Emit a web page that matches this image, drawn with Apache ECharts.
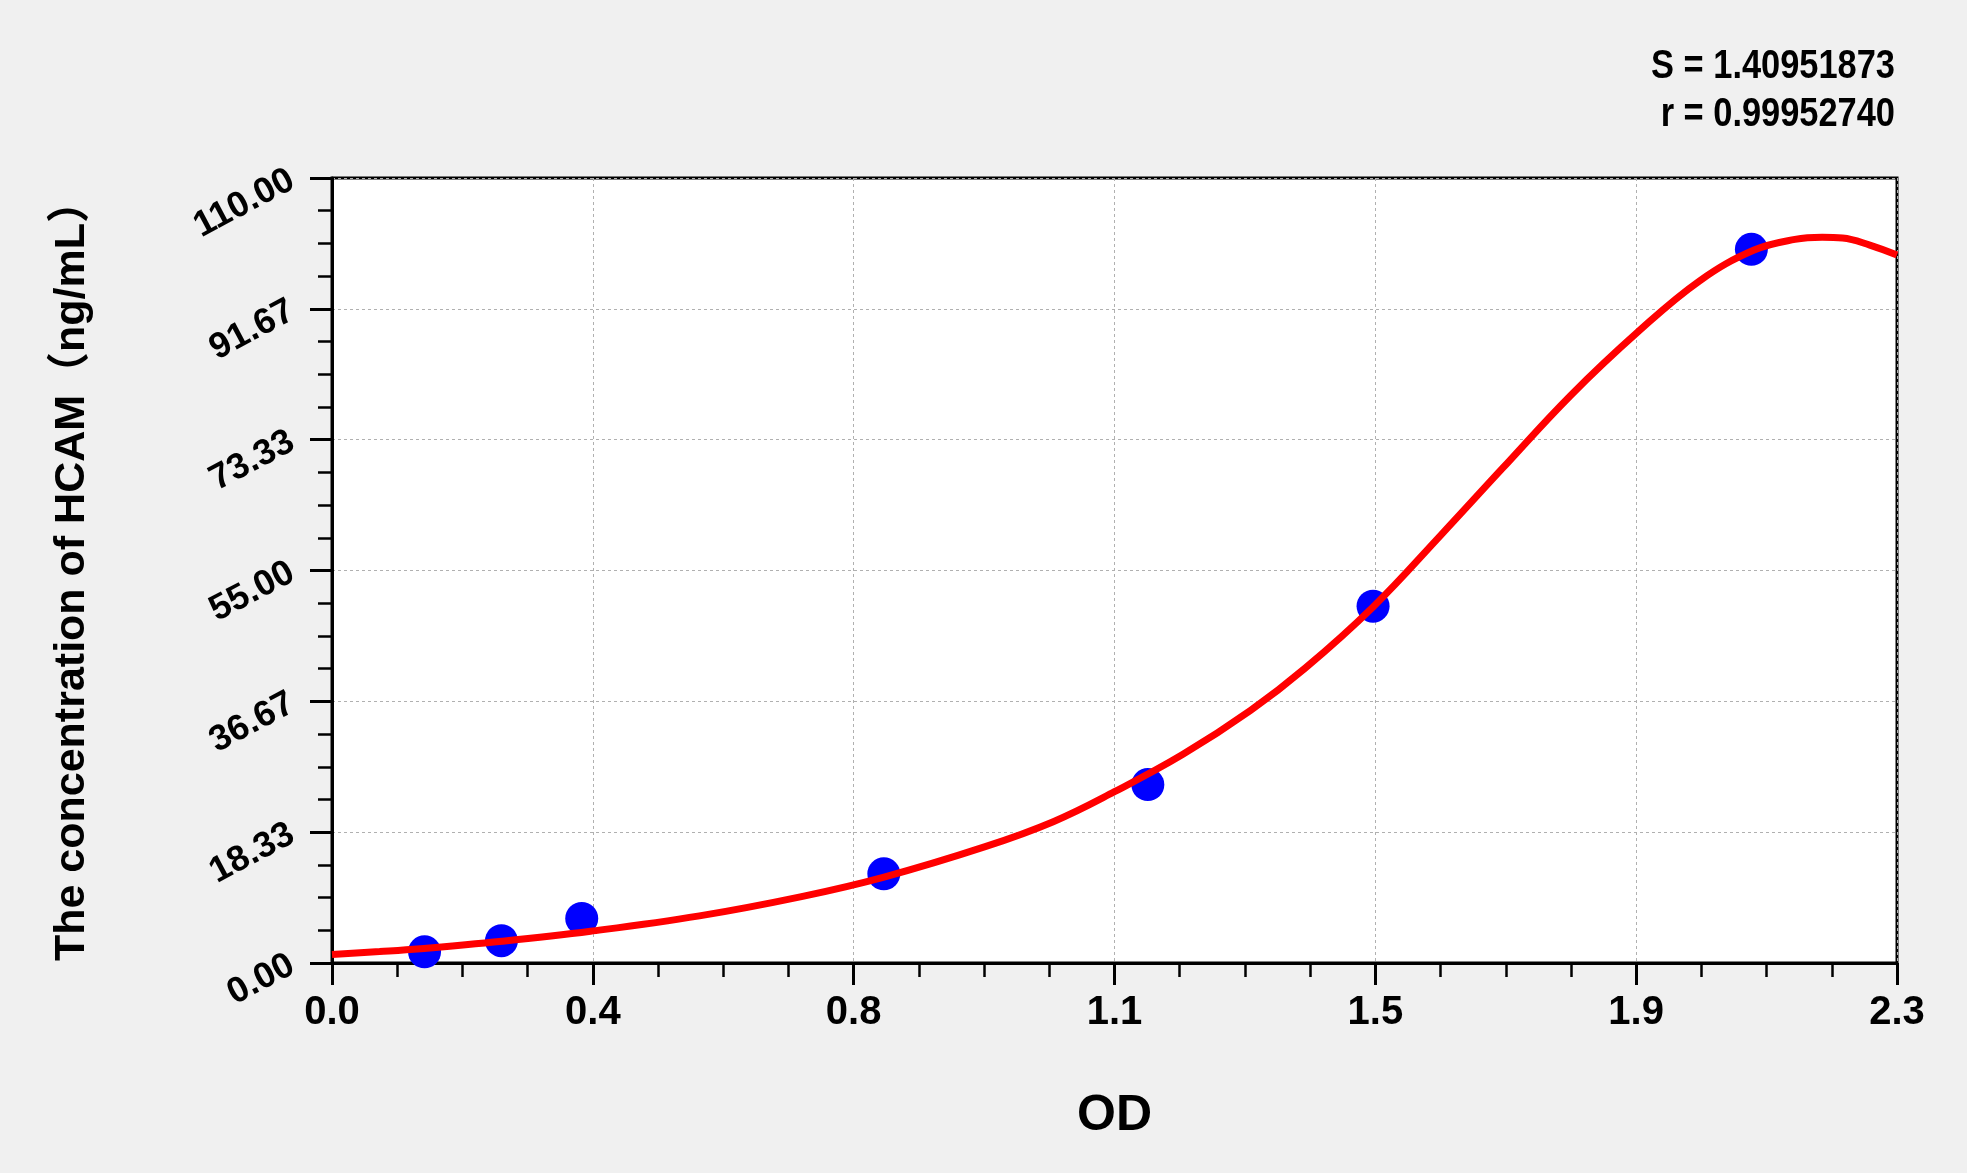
<!DOCTYPE html>
<html><head><meta charset="utf-8">
<script src="https://cdn.jsdelivr.net/npm/echarts@6/dist/echarts.min.js"></script>
<style>html,body{margin:0;padding:0;background:#f0f0f0;} #c{width:1967px;height:1173px;}</style>
</head><body><div id="c"></div>
<script>
// Standard points (OD, concentration ng/mL)
const standardOD = [0.136, 0.249, 0.367, 0.811, 1.199, 1.530, 2.086];
const standardConc = [1.5625, 3.125, 6.25, 12.5, 25, 50, 100];
// Fitted curve
const curveOD = [0.00, 0.07, 0.13, 0.25, 0.38, 0.54, 0.69, 0.81, 0.96, 1.06, 1.15, 1.25, 1.35, 1.43, 1.53, 1.63, 1.72, 1.82, 1.92, 2.01, 2.09, 2.15, 2.19, 2.22, 2.26, 2.30];
const curveConc = [1.2, 1.6, 2.0, 3.05, 4.45, 6.6, 9.3, 12.0, 16.3, 19.8, 24.0, 29.2, 35.4, 41.3, 49.9, 60.0, 69.3, 79.5, 88.5, 95.6, 99.9, 101.4, 101.7, 101.6, 100.6, 99.2];
// Tick labels
const xTickLabels = ['0.0', '0.4', '0.8', '1.1', '1.5', '1.9', '2.3'];
const yTickLabels = ['0.00', '18.33', '36.67', '55.00', '73.33', '91.67', '110.00'];
const statLines = ['S = 1.40951873', 'r = 0.99952740'];
const xTitle = 'OD';
const yTitle = 'The concentration of HCAM（ng/mL）';

const FONT = "'Liberation Sans', Arial, 'Noto Sans CJK SC', sans-serif";
const xMax = 2.3, yMax = 110;
const xStep = xMax / 6, yStep = yMax / 6;

const chart = echarts.init(document.getElementById('c'), null, {renderer: 'canvas'});
chart.setOption({
  backgroundColor: '#f0f0f0',
  animation: false,
  grid: {left: 332, top: 178, right: 70, bottom: 210, show: true, backgroundColor: '#ffffff', borderColor: '#000', borderWidth: 3},
  graphic: statLines.map((t, i) => ({
    type: 'text', x: 1895, y: 67 + i * 48, scaleX: 0.86,
    style: {text: t, fill: '#000', font: 'bold 40px ' + FONT, align: 'right', verticalAlign: 'middle', textAlign: 'right', textVerticalAlign: 'middle'}
  })),
  xAxis: {
    type: 'value', min: 0, max: xMax, interval: xStep,
    name: xTitle, nameLocation: 'middle', nameGap: 128,
    nameTextStyle: {fontFamily: FONT, fontWeight: 'bold', fontSize: 50, color: '#000'},
    axisLine: {show: true, lineStyle: {color: '#000', width: 3}},
    axisTick: {show: true, inside: false, length: 22, lineStyle: {color: '#000', width: 3}},
    minorTick: {show: true, splitNumber: 4, length: 14, lineStyle: {color: '#000', width: 2.5}},
    splitLine: {show: true, lineStyle: {color: '#b0b0b0', width: 1, type: [3, 3]}},
    axisLabel: {margin: 30, color: '#000', fontFamily: FONT, fontWeight: 'bold', fontSize: 40,
      formatter: v => xTickLabels[Math.round(v / xStep)] ?? ''}
  },
  yAxis: {
    type: 'value', min: 0, max: yMax, interval: yStep,
    name: yTitle, nameLocation: 'middle', nameRotate: 90, nameGap: 238,
    nameTextStyle: {fontFamily: FONT, fontWeight: 'bold', fontSize: 43, color: '#000'},
    axisLine: {show: true, lineStyle: {color: '#000', width: 3}},
    axisTick: {show: true, inside: false, length: 22, lineStyle: {color: '#000', width: 3}},
    minorTick: {show: true, splitNumber: 4, length: 14, lineStyle: {color: '#000', width: 2.5}},
    splitLine: {show: true, lineStyle: {color: '#b0b0b0', width: 1, type: [3, 3]}},
    axisLabel: {margin: 40, rotate: 28, color: '#000', fontFamily: FONT, fontWeight: 'bold', fontSize: 36,
      formatter: v => yTickLabels[Math.round(v / yStep)] ?? ''}
  },
  series: [
    {
      type: 'scatter', name: 'Standards', z: 2,
      data: standardOD.map((x, i) => [x, standardConc[i]]),
      symbol: 'circle', symbolSize: 33,
      itemStyle: {color: '#0000ff', opacity: 1}
    },
    {
      type: 'line', name: 'Fit', z: 3,
      data: curveOD.map((x, i) => [x, curveConc[i]]),
      smooth: 0.4, showSymbol: false, clip: true,
      lineStyle: {color: '#ff0000', width: 7}
    }
  ]
});
</script></body></html>
